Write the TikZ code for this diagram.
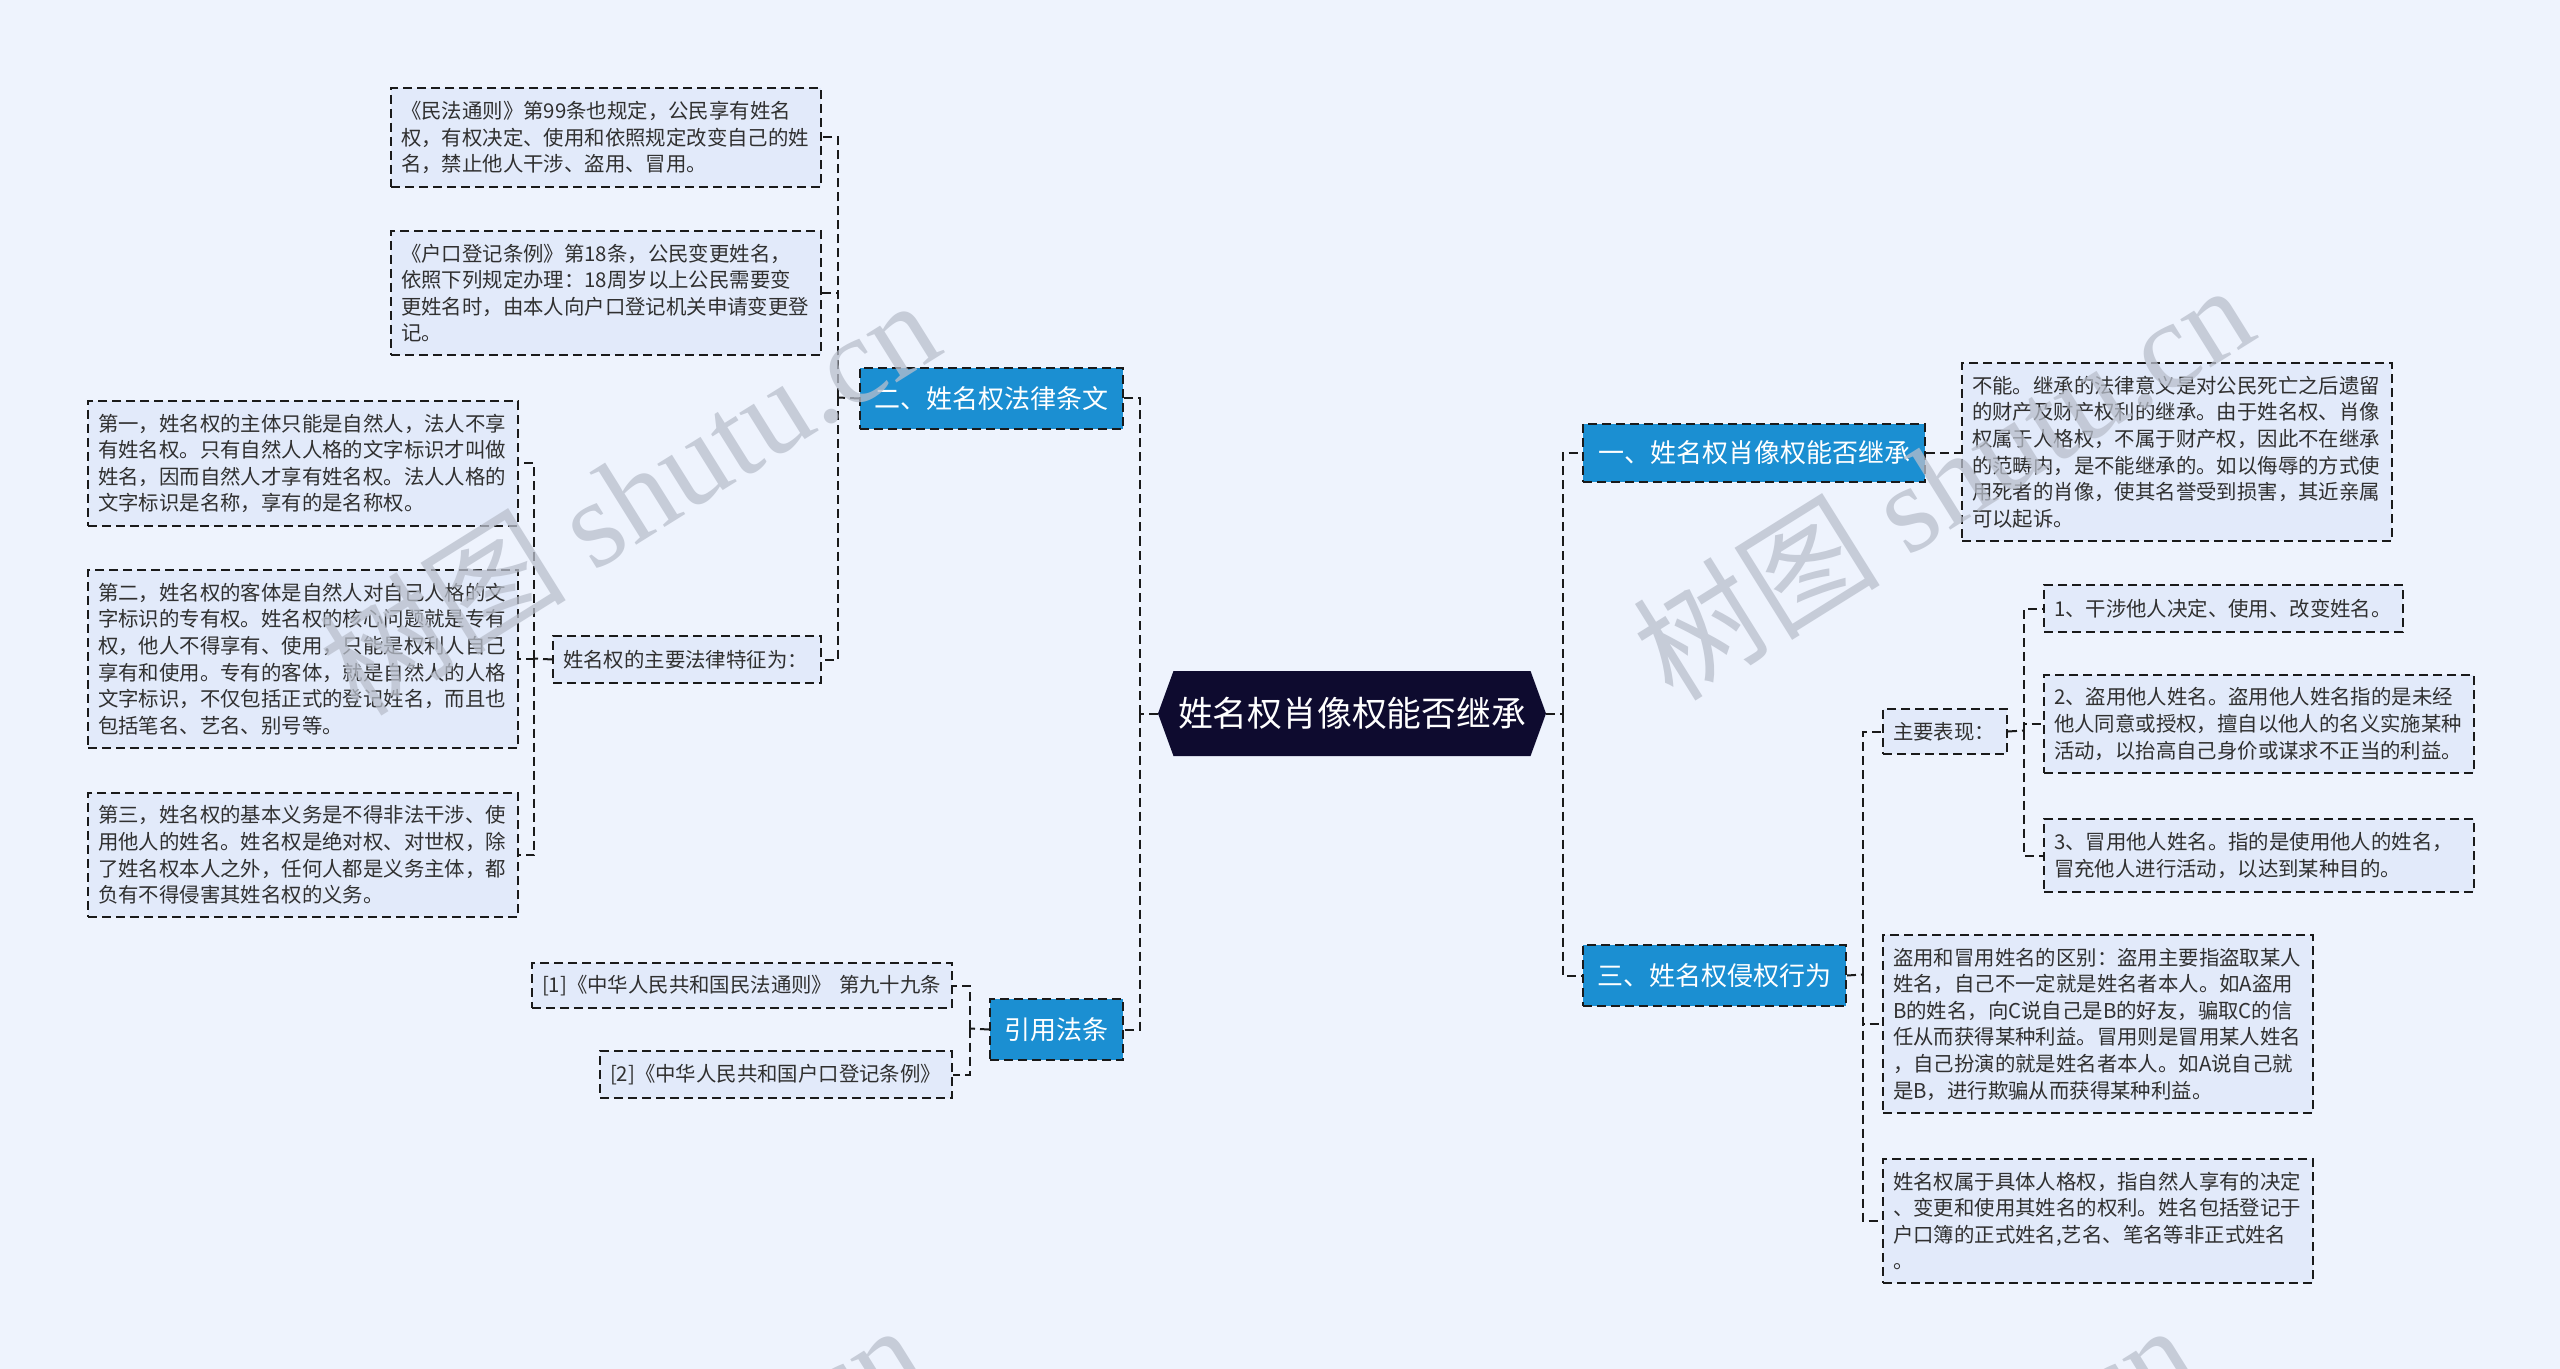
\documentclass[tikz,border=0pt]{standalone}
\usepackage{fontspec}
\usetikzlibrary{shapes.symbols}
\newfontfamily\cjk{Noto Sans CJK SC}
\newfontfamily\wmserif{Liberation Serif}
\definecolor{bgc}{HTML}{EEF3FD}
\definecolor{leaffill}{HTML}{E2EAFA}
\definecolor{branchc}{HTML}{1B8FD2}
\definecolor{rootc}{HTML}{0E0B2F}
\definecolor{linec}{HTML}{1A1A1A}
\definecolor{textc}{HTML}{303030}
\definecolor{wmc}{HTML}{B9BFCC}
\tikzset{
  link/.style={
    draw = linec,
    line width = 1pt,
    dash pattern = on 4.5pt off 2.5pt
  },
  leaf/.style={
    link,
    fill = leaffill,
    anchor = north west,
    align = left,
    inner xsep = 5pt,
    inner ysep = 2pt,
    text = textc,
    font = \cjk\fontsize{10.2}{13.3}\selectfont
  },
  wide/.style={
    text width = 205pt
  },
  branch/.style={
    link,
    fill = branchc,
    anchor = north west,
    inner sep = 0pt,
    text = white,
    font = \cjk\fontsize{13}{15}\selectfont
  },
  root/.style={
    shape = signal,
    signal to = west and east,
    signal pointer angle = 140,
    fill = rootc,
    inner xsep = 0pt,
    minimum width = 194pt,
    minimum height = 42.5pt,
    text = white,
    font = \cjk\fontsize{17.4}{20}\selectfont
  },
  wmark/.style={
    rotate = 32,
    text = wmc,
    opacity = 0.75,
    font = \cjk\fontsize{62}{62}\selectfont
  }
}
\begin{document}
\begin{tikzpicture}[x=0.5pt,y=-0.5pt]
    \fill[bgc] (0,0) rectangle (2560,1369);
    \useasboundingbox (0,0) rectangle (2560,1369);
    % centre
    \node[root] (root) at (1352,713.5) {姓名权肖像权能否继承};
    % left side
    \node[branch, minimum width=131.5pt, minimum height=30.5pt] (b2) at (859,367) {二、姓名权法律条文};
    \node[branch, minimum width=66.5pt, minimum height=30.5pt] (b4) at (989,998) {引用法条};
    \node[leaf, wide, minimum height=49.5pt] (l1) at (390,87) {《民法通则》第99条也规定，公民享有姓名\\权，有权决定、使用和依照规定改变自己的姓\\名，禁止他人干涉、盗用、冒用。};
    \node[leaf, wide, minimum height=62pt] (l2) at (390,230) {《户口登记条例》第18条，公民变更姓名，\\依照下列规定办理：18周岁以上公民需要变\\更姓名时，由本人向户口登记机关申请变更登\\记。};
    \node[leaf, text width=124pt, minimum height=23.5pt] (tz) at (552,635) {姓名权的主要法律特征为：};
    \node[leaf, wide, minimum height=62.5pt] (d1) at (87,400) {第一，姓名权的主体只能是自然人，法人不享\\有姓名权。只有自然人人格的文字标识才叫做\\姓名，因而自然人才享有姓名权。法人人格的\\文字标识是名称，享有的是名称权。};
    \node[leaf, wide, minimum height=89pt] (d2) at (87,569) {第二，姓名权的客体是自然人对自己人格的文\\字标识的专有权。姓名权的核心问题就是专有\\权，他人不得享有、使用，只能是权利人自己\\享有和使用。专有的客体，就是自然人的人格\\文字标识，不仅包括正式的登记姓名，而且也\\包括笔名、艺名、别号等。};
    \node[leaf, wide, minimum height=62pt] (d3) at (87,792) {第三，姓名权的基本义务是不得非法干涉、使\\用他人的姓名。姓名权是绝对权、对世权，除\\了姓名权本人之外，任何人都是义务主体，都\\负有不得侵害其姓名权的义务。};
    \node[leaf, text width=200pt, minimum height=22.5pt] (r1) at (531,962) {[1]《中华人民共和国民法通则》 第九十九条};
    \node[leaf, text width=166pt, minimum height=23.5pt] (r2) at (599,1050) {[2]《中华人民共和国户口登记条例》};
    % right side
    \node[branch, minimum width=171pt, minimum height=29pt] (b1) at (1582,423) {一、姓名权肖像权能否继承};
    \node[branch, minimum width=131.5pt, minimum height=30.5pt] (b3) at (1582,944) {三、姓名权侵权行为};
    \node[leaf, wide, minimum height=89pt] (a1) at (1961,362) {不能。继承的法律意义是对公民死亡之后遗留\\的财产及财产权利的继承。由于姓名权、肖像\\权属于人格权，不属于财产权，因此不在继承\\的范畴内，是不能继承的。如以侮辱的方式使\\用死者的肖像，使其名誉受到损害，其近亲属\\可以起诉。};
    \node[leaf, text width=52pt, minimum height=22.5pt] (zy) at (1882,708) {主要表现：};
    \node[leaf, text width=169.5pt, minimum height=23.5pt] (m1) at (2043,584) {1、干涉他人决定、使用、改变姓名。};
    \node[leaf, wide, minimum height=49pt] (m2) at (2043,674) {2、盗用他人姓名。盗用他人姓名指的是未经\\他人同意或授权，擅自以他人的名义实施某种\\活动，以抬高自己身价或谋求不正当的利益。};
    \node[leaf, wide, minimum height=36.5pt] (m3) at (2043,818) {3、冒用他人姓名。指的是使用他人的姓名，\\冒充他人进行活动，以达到某种目的。};
    \node[leaf, wide, minimum height=89pt] (q1) at (1882,934) {盗用和冒用姓名的区别：盗用主要指盗取某人\\姓名，自己不一定就是姓名者本人。如A盗用\\B的姓名，向C说自己是B的好友，骗取C的信\\任从而获得某种利益。冒用则是冒用某人姓名\\，自己扮演的就是姓名者本人。如A说自己就\\是B，进行欺骗从而获得某种利益。};
    \node[leaf, wide, minimum height=62pt] (q2) at (1882,1158) {姓名权属于具体人格权，指自然人享有的决定\\、变更和使用其姓名的权利。姓名包括登记于\\户口簿的正式姓名,艺名、笔名等非正式姓名\\。};
    % buses
    \coordinate (lbus) at (1140,713.5);
    \coordinate (rbus) at (1563,713.5);
    \coordinate (b2bus) at (838,397.5);
    \coordinate (tzbus) at (534,658.5);
    \coordinate (b4bus) at (970,1028.5);
    \coordinate (b3bus) at (1863,974.5);
    \coordinate (zybus) at (2024,730.5);
    % connectors
    \draw[link] (root.west) -- (lbus);
    \foreach \n in {b2,b4}{
    \draw[link] (lbus) |- (\n.east);}
    \draw[link] (root.east) -- (rbus);
    \foreach \n in {b1,b3}{
    \draw[link] (rbus) |- (\n.west);}
    \draw[link] (b2.west) -- (b2bus);
    \foreach \n in {l1,l2,tz}{
    \draw[link] (b2bus) |- (\n.east);}
    \draw[link] (tz.west) -- (tzbus);
    \foreach \n in {d1,d2,d3}{
    \draw[link] (tzbus) |- (\n.east);}
    \draw[link] (b4.west) -- (b4bus);
    \foreach \n in {r1,r2}{
    \draw[link] (b4bus) |- (\n.east);}
    \draw[link] (b1.east) -- (b1.east -| a1.west);
    \draw[link] (b3.east) -- (b3bus);
    \foreach \n in {zy,q1,q2}{
    \draw[link] (b3bus) |- (\n.west);}
    \draw[link] (zy.east) -- (zybus);
    \foreach \n in {m1,m2,m3}{
    \draw[link] (zybus) |- (\n.west);}
    % watermarks
    \begin{scope}
    \clip (0,0) rectangle (2560,1369);
    \node[wmark] (wm1) at (628,495) {树图 {\wmserif shutu.cn}};
    \node[wmark] (wm2) at (1942,480) {树图 {\wmserif shutu.cn}};
    \node[wmark] (wm3) at (612,1520) {树图 {\wmserif shutu.cn}};
    \node[wmark] (wm4) at (1884,1520) {树图 {\wmserif shutu.cn}};
    \end{scope}
\end{tikzpicture}
\end{document}
